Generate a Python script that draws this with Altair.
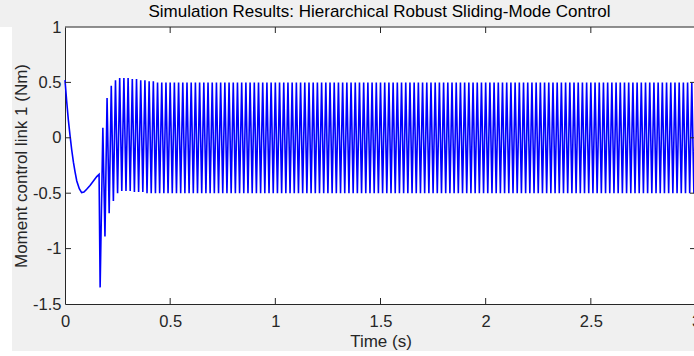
import altair as alt
import pandas as pd

title_text = "Simulation Results: Hierarchical Robust Sliding-Mode Control"
x_title = "Time (s)"
y_title = "Moment control link 1 (Nm)"

# initial transient (s, Nm)
start_time = [0.0, 0.008, 0.016, 0.024, 0.032, 0.040, 0.048, 0.056, 0.068,
              0.079, 0.090, 0.103, 0.119, 0.135, 0.151, 0.162, 0.167]
start_value = [0.52, 0.33, 0.16, 0.02, -0.11, -0.22, -0.31, -0.39, -0.46,
               -0.495, -0.49, -0.465, -0.43, -0.39, -0.35, -0.33, -1.35]

# chattering phase: successive extrema
osc_time = [
    0.18, 0.19, 0.20, 0.21, 0.22, 0.23, 0.24, 0.25, 0.26, 0.27,
    0.28, 0.29, 0.30, 0.31, 0.32, 0.33, 0.34, 0.35, 0.36, 0.37,
    0.38, 0.39, 0.40, 0.41, 0.42, 0.43, 0.44, 0.45, 0.46, 0.47,
    0.48, 0.49, 0.50, 0.51, 0.52, 0.53, 0.54, 0.55, 0.56, 0.57,
    0.58, 0.59, 0.60, 0.61, 0.62, 0.63, 0.64, 0.65, 0.66, 0.67,
    0.68, 0.69, 0.70, 0.71, 0.72, 0.73, 0.74, 0.75, 0.76, 0.77,
    0.78, 0.79, 0.80, 0.81, 0.82, 0.83, 0.84, 0.85, 0.86, 0.87,
    0.88, 0.89, 0.90, 0.91, 0.92, 0.93, 0.94, 0.95, 0.96, 0.97,
    0.98, 0.99, 1.00, 1.01, 1.02, 1.03, 1.04, 1.05, 1.06, 1.07,
    1.08, 1.09, 1.10, 1.11, 1.12, 1.13, 1.14, 1.15, 1.16, 1.17,
    1.18, 1.19, 1.20, 1.21, 1.22, 1.23, 1.24, 1.25, 1.26, 1.27,
    1.28, 1.29, 1.30, 1.31, 1.32, 1.33, 1.34, 1.35, 1.36, 1.37,
    1.38, 1.39, 1.40, 1.41, 1.42, 1.43, 1.44, 1.45, 1.46, 1.47,
    1.48, 1.49, 1.50, 1.51, 1.52, 1.53, 1.54, 1.55, 1.56, 1.57,
    1.58, 1.59, 1.60, 1.61, 1.62, 1.63, 1.64, 1.65, 1.66, 1.67,
    1.68, 1.69, 1.70, 1.71, 1.72, 1.73, 1.74, 1.75, 1.76, 1.77,
    1.78, 1.79, 1.80, 1.81, 1.82, 1.83, 1.84, 1.85, 1.86, 1.87,
    1.88, 1.89, 1.90, 1.91, 1.92, 1.93, 1.94, 1.95, 1.96, 1.97,
    1.98, 1.99, 2.00, 2.01, 2.02, 2.03, 2.04, 2.05, 2.06, 2.07,
    2.08, 2.09, 2.10, 2.11, 2.12, 2.13, 2.14, 2.15, 2.16, 2.17,
    2.18, 2.19, 2.20, 2.21, 2.22, 2.23, 2.24, 2.25, 2.26, 2.27,
    2.28, 2.29, 2.30, 2.31, 2.32, 2.33, 2.34, 2.35, 2.36, 2.37,
    2.38, 2.39, 2.40, 2.41, 2.42, 2.43, 2.44, 2.45, 2.46, 2.47,
    2.48, 2.49, 2.50, 2.51, 2.52, 2.53, 2.54, 2.55, 2.56, 2.57,
    2.58, 2.59, 2.60, 2.61, 2.62, 2.63, 2.64, 2.65, 2.66, 2.67,
    2.68, 2.69, 2.70, 2.71, 2.72, 2.73, 2.74, 2.75, 2.76, 2.77,
    2.78, 2.79, 2.80, 2.81, 2.82, 2.83, 2.84, 2.85, 2.86, 2.87,
    2.88, 2.89, 2.90, 2.91, 2.92, 2.93, 2.94, 2.95, 2.96, 2.97,
    2.98, 2.99, 3.00,
]
osc_value = [
    0.09, -0.89, 0.36, -0.68, 0.47, -0.57, 0.52, -0.50, 0.54, -0.48,
    0.54, -0.48, 0.54, -0.48, 0.53, -0.49, 0.53, -0.49, 0.52, -0.49,
    0.52, -0.50, 0.51, -0.50, 0.51, -0.50, 0.50, -0.50, 0.50, -0.50,
    0.50, -0.50, 0.50, -0.50, 0.50, -0.50, 0.50, -0.50, 0.50, -0.50,
    0.50, -0.50, 0.50, -0.50, 0.50, -0.50, 0.50, -0.50, 0.50, -0.50,
    0.50, -0.50, 0.50, -0.50, 0.50, -0.50, 0.50, -0.50, 0.50, -0.50,
    0.50, -0.50, 0.50, -0.50, 0.50, -0.50, 0.50, -0.50, 0.50, -0.50,
    0.50, -0.50, 0.50, -0.50, 0.50, -0.50, 0.50, -0.50, 0.50, -0.50,
    0.50, -0.50, 0.50, -0.50, 0.50, -0.50, 0.50, -0.50, 0.50, -0.50,
    0.50, -0.50, 0.50, -0.50, 0.50, -0.50, 0.50, -0.50, 0.50, -0.50,
    0.50, -0.50, 0.50, -0.50, 0.50, -0.50, 0.50, -0.50, 0.50, -0.50,
    0.50, -0.50, 0.50, -0.50, 0.50, -0.50, 0.50, -0.50, 0.50, -0.50,
    0.50, -0.50, 0.50, -0.50, 0.50, -0.50, 0.50, -0.50, 0.50, -0.50,
    0.50, -0.50, 0.50, -0.50, 0.50, -0.50, 0.50, -0.50, 0.50, -0.50,
    0.50, -0.50, 0.50, -0.50, 0.50, -0.50, 0.50, -0.50, 0.50, -0.50,
    0.50, -0.50, 0.50, -0.50, 0.50, -0.50, 0.50, -0.50, 0.50, -0.50,
    0.50, -0.50, 0.50, -0.50, 0.50, -0.50, 0.50, -0.50, 0.50, -0.50,
    0.50, -0.50, 0.50, -0.50, 0.50, -0.50, 0.50, -0.50, 0.50, -0.50,
    0.50, -0.50, 0.50, -0.50, 0.50, -0.50, 0.50, -0.50, 0.50, -0.50,
    0.50, -0.50, 0.50, -0.50, 0.50, -0.50, 0.50, -0.50, 0.50, -0.50,
    0.50, -0.50, 0.50, -0.50, 0.50, -0.50, 0.50, -0.50, 0.50, -0.50,
    0.50, -0.50, 0.50, -0.50, 0.50, -0.50, 0.50, -0.50, 0.50, -0.50,
    0.50, -0.50, 0.50, -0.50, 0.50, -0.50, 0.50, -0.50, 0.50, -0.50,
    0.50, -0.50, 0.50, -0.50, 0.50, -0.50, 0.50, -0.50, 0.50, -0.50,
    0.50, -0.50, 0.50, -0.50, 0.50, -0.50, 0.50, -0.50, 0.50, -0.50,
    0.50, -0.50, 0.50, -0.50, 0.50, -0.50, 0.50, -0.50, 0.50, -0.50,
    0.50, -0.50, 0.50, -0.50, 0.50, -0.50, 0.50, -0.50, 0.50, -0.50,
    0.50, -0.50, 0.50, -0.50, 0.50, -0.50, 0.50, -0.50, 0.50, -0.50,
    0.50, -0.50, 0.50,
]

x_ticks = [0, 0.5, 1, 1.5, 2, 2.5, 3]
y_ticks = [-1.5, -1, -0.5, 0, 0.5, 1]

df = pd.DataFrame({"t": start_time + osc_time, "u": start_value + osc_value})
one = pd.DataFrame({"k": [0]})
xt = pd.DataFrame({"t": x_ticks[1:-1]})
yt = pd.DataFrame({"u": y_ticks[1:-1]})

W, H = 629, 277
XR = 631          # x range runs slightly past the visible window
FONT = "Liberation Sans"
AX = "#262626"
TL = 6

xscale = alt.Scale(domain=[0, 3], range=[0, XR], nice=False, zero=False)
yscale = alt.Scale(domain=[-1.5, 1], nice=False, zero=False)

x_axis = alt.Axis(values=x_ticks, title=x_title, grid=False, ticks=False, tickSize=0,
                  labelFont=FONT, labelFontSize=16.5, labelColor=AX, labelPadding=9,
                  labelFlush=False, labelOverlap=False, labelExpr="'' + datum.value",
                  domainColor=AX, domainWidth=1,
                  titleFont=FONT, titleFontSize=17, titleFontWeight="normal", titleColor=AX,
                  titleBaseline="alphabetic", titleY=42)
y_axis = alt.Axis(values=y_ticks, title=y_title, grid=False, ticks=False, tickSize=0,
                  labelFont=FONT, labelFontSize=16.5, labelColor=AX, labelPadding=4,
                  labelFlush=False, labelOverlap=False, labelExpr="'' + datum.value",
                  domainColor=AX, domainWidth=1,
                  titleFont=FONT, titleFontSize=17, titleFontWeight="normal", titleColor=AX,
                  titleBaseline="alphabetic", titleAlign="center", titleAngle=270,
                  titleX=-39, titleY=H / 2)

X = alt.X("t:Q", scale=xscale, axis=x_axis)
Y = alt.Y("u:Q", scale=yscale, axis=y_axis)

left_strip = alt.Chart(one).mark_rect(color="white").encode(
    x=alt.value(-65), x2=alt.value(-53), y=alt.value(0), y2=alt.value(H + 47))

line = alt.Chart(df).mark_line(color="#0000ff", strokeWidth=1.6).encode(x=X, y=Y)

bottom_ticks = alt.Chart(xt).mark_rule(color=AX, strokeWidth=1).encode(
    x=X, y=alt.value(H), y2=alt.value(H - TL))
top_ticks = alt.Chart(xt).mark_rule(color=AX, strokeWidth=1).encode(
    x=X, y=alt.value(0), y2=alt.value(TL))
left_ticks = alt.Chart(yt).mark_rule(color=AX, strokeWidth=1).encode(
    y=Y, x=alt.value(0), x2=alt.value(TL))
right_ticks = alt.Chart(yt).mark_rule(color=AX, strokeWidth=1).encode(
    y=Y, x=alt.value(XR - TL), x2=alt.value(XR))
top_border = alt.Chart(one).mark_rule(color=AX, strokeWidth=1).encode(
    x=alt.value(0), x2=alt.value(XR), y=alt.value(0))

chart = alt.layer(
    left_strip, line, bottom_ticks, top_ticks, left_ticks, right_ticks, top_border
).properties(
    width=W,
    height=H,
    title=alt.TitleParams(title_text, font=FONT, fontSize=17, fontWeight="normal",
                          color="#000000", anchor="middle", offset=0, dy=2),
    autosize=alt.AutoSizeParams(type="none"),
    padding={"left": 65, "top": 27, "right": 0, "bottom": 47},
    background="#f0f0f0",
).configure_view(stroke="transparent", fill="white")

chart.save("out.html", embed_options={"renderer": "svg", "actions": False})
